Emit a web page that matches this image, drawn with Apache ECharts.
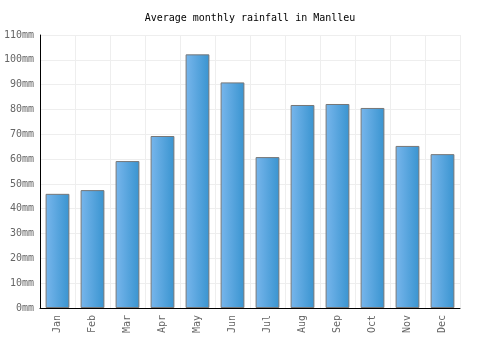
<!DOCTYPE html>
<html><head><meta charset="utf-8">
<script src="https://cdn.jsdelivr.net/npm/echarts@6/dist/echarts.min.js"></script>
<style>html,body{margin:0;padding:0;background:#fff}#c{width:500px;height:350px}</style>
</head><body><div id="c"></div>
<script>
const categories = ["Jan","Feb","Mar","Apr","May","Jun","Jul","Aug","Sep","Oct","Nov","Dec"];
const rainfall = [46, 47.5, 59.2, 69.3, 102.2, 90.9, 60.8, 81.8, 82.2, 80.6, 65.3, 62];
const yTicks = [0,10,20,30,40,50,60,70,80,90,100,110];

const chart = echarts.init(document.getElementById('c'), null, {renderer:'canvas'});
const font = '"DejaVu Sans Mono", monospace';
chart.setOption({
  animation: false,
  title: {text: 'Average monthly rainfall in Manlleu', left: 'center', top: 8,
    textStyle: {fontFamily: font, fontSize: 10, fontWeight: 'normal', color: '#000'}},
  grid: {left: 40, right: 40, top: 35, bottom: 42, containLabel: false},
  xAxis: {type: 'category', data: categories,
    axisLine: {lineStyle: {color: '#000'}},
    axisTick: {show: false},
    splitLine: {show: true, lineStyle: {color: '#eeeeee'}},
    axisLabel: {rotate: 90, fontFamily: font, fontSize: 10, color: '#666', margin: 7, interval: 0}},
  yAxis: {type: 'value', min: 0, max: yTicks[yTicks.length-1], interval: 10,
    axisLine: {show: true, lineStyle: {color: '#000'}},
    axisTick: {show: false},
    splitLine: {lineStyle: {color: '#eeeeee'}},
    axisLabel: {formatter: v => v + 'mm', fontFamily: font, fontSize: 10, color: '#666', margin: 6}},
  series: [{type: 'bar', data: rainfall, barWidth: '68%',
    itemStyle: {borderColor: '#777', borderWidth: 1,
      color: new echarts.graphic.LinearGradient(0,0,1,0,[{offset:0,color:'#78b6ec'},{offset:1,color:'#3994d0'}])}}]
});
</script></body></html>
